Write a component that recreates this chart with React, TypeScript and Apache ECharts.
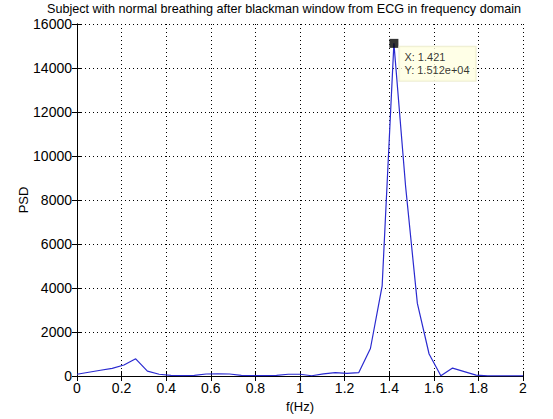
import React, { useEffect, useRef } from "react";
import * as echarts from "echarts";

const titleText = "Subject with normal breathing after blackman window from ECG in frequency domain";
const xName = "f(Hz)";
const yName = "PSD";

const freqHz = [
  0, 0.0526, 0.1053, 0.1579, 0.2105, 0.2632, 0.3158, 0.3684, 0.4211, 0.4737,
  0.5263, 0.5789, 0.6316, 0.6842, 0.7368, 0.7895, 0.8421, 0.8947, 0.9474, 1.0,
  1.0526, 1.1053, 1.1579, 1.2105, 1.2632, 1.3158, 1.3684, 1.4211, 1.4737, 1.5263,
  1.5789, 1.6316, 1.6842, 1.7368, 1.7895, 1.8421, 1.8947, 1.9474, 2.0,
];
const psdValues = [
  80, 170, 260, 350, 500, 780, 220, 80, 30, 20,
  30, 90, 100, 90, 30, 20, 20, 30, 80, 80,
  10, 100, 150, 120, 150, 1250, 4100, 15120, 8600, 3300,
  1000, 10, 360, 200, 40, 10, 10, 10, 10,
];
const datatipPoint = [1.4211, 15120];
const datatipLines = ["X: 1.421", "Y: 1.512e+04"];

const xMin = 0, xMax = 2, xStep = 0.2;
const yMin = 0, yMax = 16000, yStep = 2000;

const FONT = "Liberation Sans, Arial, sans-serif";

export default function App() {
  const ref = useRef<HTMLDivElement>(null);
  useEffect(() => {
    const chart = echarts.init(ref.current!, null, { renderer: "svg" });
    const lineData = freqHz.map((f, i) => [f, psdValues[i]]);
    const axisLine = { show: true, lineStyle: { color: "#000", width: 1 } };
    const tick = { show: true, inside: true, length: 5, lineStyle: { color: "#000", width: 1 } };
    const dotted = { show: true, lineStyle: { color: "#000", width: 1, type: [1, 3] } };
    chart.setOption({
      animation: false,
      backgroundColor: "#fff",
      title: {
        text: titleText,
        left: 284,
        textAlign: "center",
        top: 2,
        padding: 0,
        textStyle: { fontFamily: FONT, fontSize: 12.6, lineHeight: 14, fontWeight: "normal", color: "#000" },
      },
      graphic: [
        {
          type: "text",
          x: 23,
          y: 200,
          rotation: Math.PI / 2,
          style: {
            text: yName,
            align: "center",
            verticalAlign: "middle",
            fontFamily: FONT,
            fontSize: 13,
            fill: "#000",
          },
        },
      ],
      grid: { left: 77, right: 30, top: 24, bottom: 43, containLabel: false, show: false },
      xAxis: [
        {
          type: "value", min: xMin, max: xMax, interval: xStep, position: "bottom",
          axisLine, axisTick: tick, splitLine: dotted,
          axisLabel: {
            color: "#000", fontFamily: FONT, fontSize: 14, margin: 5,
            formatter: (v: number) => String(Math.round(v * 10) / 10),
          },
          name: xName, nameLocation: "middle", nameGap: 24,
          nameTextStyle: { color: "#000", fontFamily: FONT, fontSize: 13 },
        },
        {
          type: "value", min: xMin, max: xMax, interval: xStep, position: "top",
          axisLine, axisTick: tick, splitLine: { show: false }, axisLabel: { show: false },
        },
      ],
      yAxis: [
        {
          type: "value", min: yMin, max: yMax, interval: yStep, position: "left",
          axisLine, axisTick: tick, splitLine: dotted,
          axisLabel: {
            color: "#000", fontFamily: FONT, fontSize: 14, margin: 5, lineHeight: 14,
            formatter: (v: number) => String(v),
          },
        },
        {
          type: "value", min: yMin, max: yMax, interval: yStep, position: "right",
          axisLine, axisTick: tick, splitLine: { show: false }, axisLabel: { show: false },
        },
      ],
      series: [
        {
          type: "line",
          data: lineData,
          showSymbol: false,
          symbol: "none",
          lineStyle: { color: "#2a2ad0", width: 1.2 },
          z: 3,
        },
        {
          type: "scatter",
          data: [datatipPoint],
          symbol: "rect",
          symbolSize: 9,
          itemStyle: { color: "#000" },
          z: 5,
          label: {
            show: true,
            position: [10, 8],
            formatter: datatipLines.join("\n"),
            backgroundColor: "#ffffe1",
            borderColor: "#e8e8c8",
            borderWidth: 1,
            padding: [4, 6, 4, 5],
            lineHeight: 13,
            color: "#000",
            fontFamily: FONT,
            fontSize: 11,
          },
        },
      ],
    });
    return () => chart.dispose();
  }, []);
  return (
    <div
      ref={ref}
      style={{ position: "fixed", left: 0, top: 0, width: 553, height: 419, background: "#fff" }}
    />
  );
}
